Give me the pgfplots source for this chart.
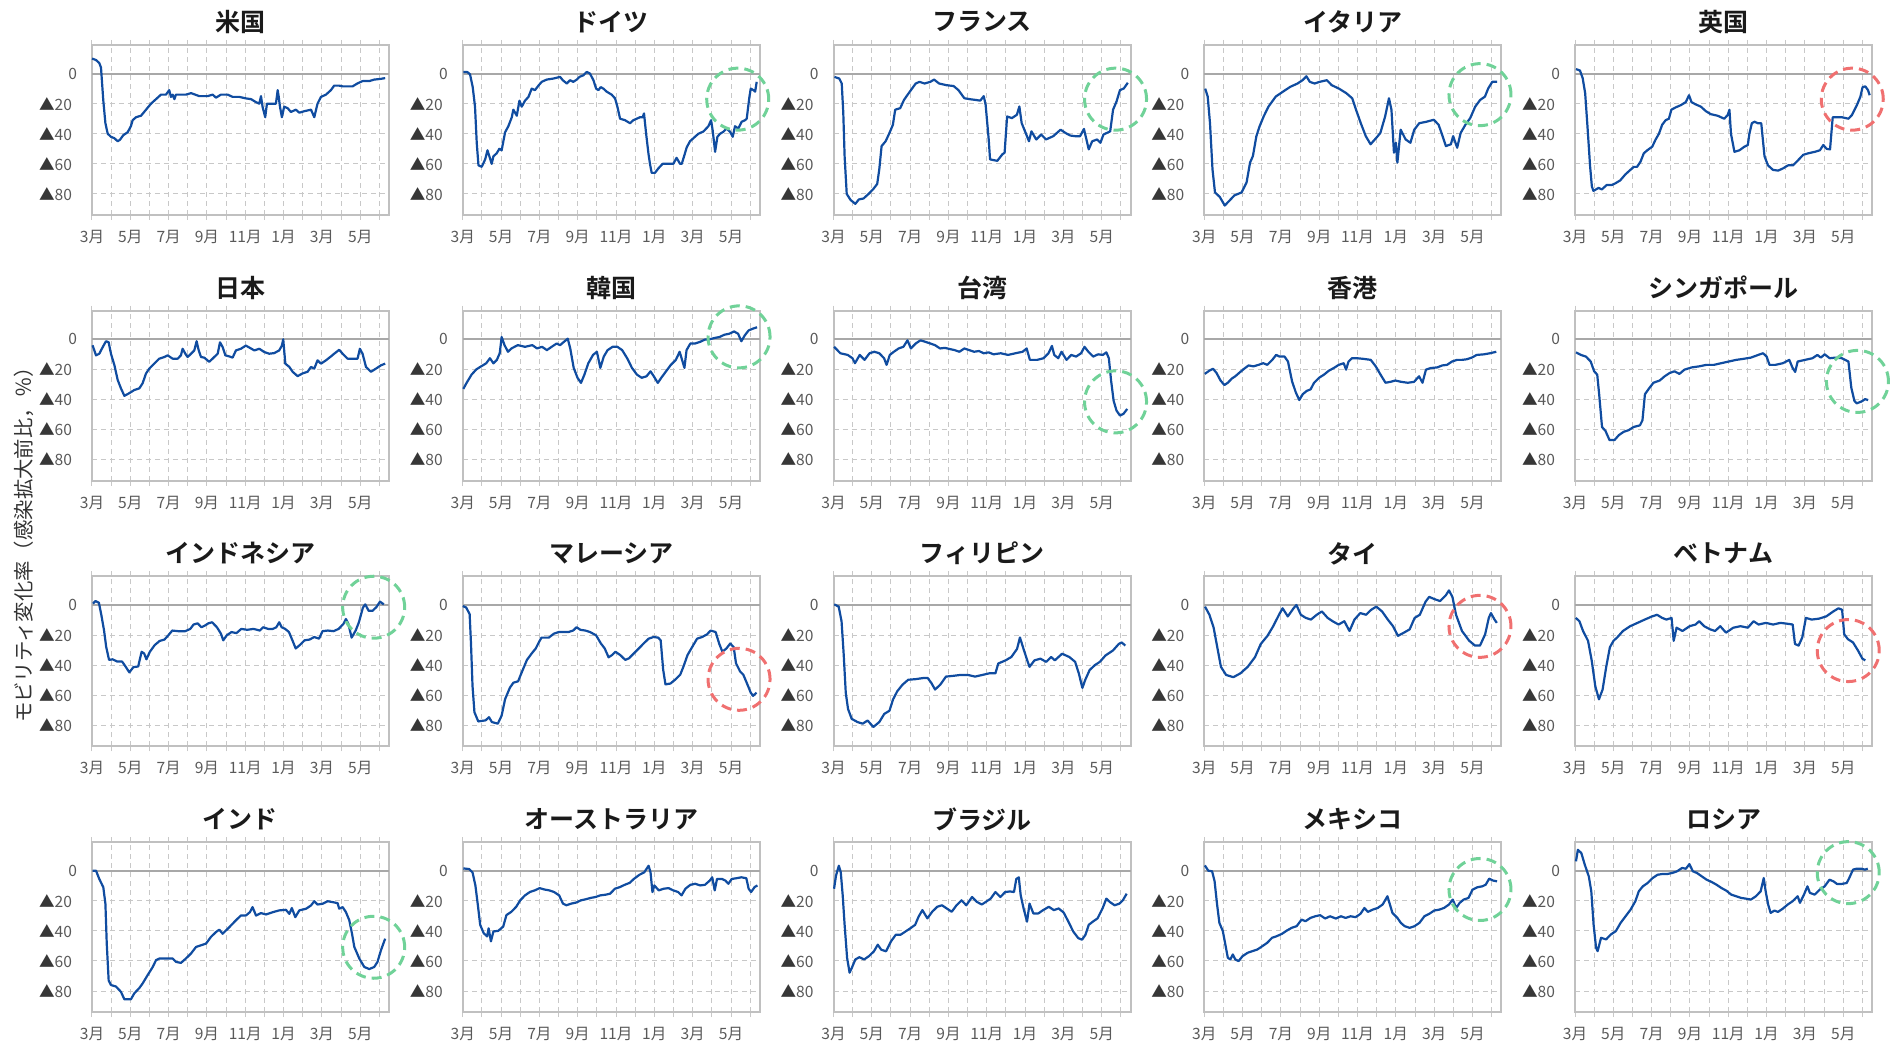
\documentclass[border=0pt]{standalone}
\usepackage{fontspec}
\setmainfont{Noto Sans CJK JP}[BoldFont={Noto Sans CJK JP Bold}]
\usepackage{pgfplots}
\pgfplotsset{compat=1.18}

\definecolor{mblue}{RGB}{16,76,160}
\definecolor{gridgray}{RGB}{200,200,200}
\definecolor{framegray}{RGB}{192,192,192}
\definecolor{zerogray}{RGB}{168,168,168}
\definecolor{labelgray}{RGB}{89,89,89}
\definecolor{tricol}{RGB}{55,55,55}
\definecolor{titlecol}{RGB}{26,26,26}
\definecolor{captioncol}{RGB}{50,50,50}
\definecolor{circG}{RGB}{112,210,152}
\definecolor{circR}{RGB}{240,112,112}

\newcommand\tri{\textcolor{tricol}{▲}}

\tikzset{
  ringG/.style={draw=circG, line width=1.5pt, dash pattern=on 5pt off 3pt},
  ringR/.style={draw=circR, line width=1.5pt, dash pattern=on 5pt off 3pt},
}

\pgfplotsset{
  panel/.style={
    scale only axis, width=148.5pt, height=85pt, anchor=north west,
    xmin=0, xmax=15.5, ymin=-94, ymax=19,
    axis line style={draw=framegray, line width=1pt},
    xtick={0,...,15},
    xticklabels={3月,{},5月,{},7月,{},9月,{},11月,{},1月,{},3月,{},5月,{}},
    ytick={-80,-60,-40,-20},
    yticklabels={\tri 80,\tri 60,\tri 40,\tri 20},
    extra y ticks={0}, extra y tick labels={0},
    extra y tick style={grid=major, major tick length=0pt,
      major grid style={solid, draw=zerogray, line width=1pt}},
    grid=major,
    major grid style={draw=gridgray, line width=0.5pt, dash pattern=on 2.5pt off 2pt},
    tick align=outside, major tick length=2.5pt,
    xtick style={draw=gridgray, line width=0.5pt},
    ytick style={draw=none},
    tick label style={font=\fontsize{7.8}{9}\selectfont, color=labelgray},
    yticklabel style={xshift=-4pt},
    xticklabel style={yshift=-1.5pt},
    title style={font=\fontsize{12.5}{14}\selectfont\bfseries, color=titlecol,
      at={(0.5,1)}, anchor=center, yshift=5.5pt},
    clip=false,
  },
  series/.style={draw=mblue, line width=1.1pt, no markers, line join=round},
}

\begin{document}
\begin{tikzpicture}
\path[use as bounding box] (0,0) rectangle (946pt,522.5pt);

% ---------- row 1 ----------
\begin{axis}[panel, at={(46pt,500pt)}, title={米国}]
\addplot[series] coordinates {(0,10)(0.21,9)(0.38,7)(0.47,4)(0.59,-18)(0.70,-33)(0.82,-40)(0.99,-42)(1.17,-43)(1.34,-45)(1.46,-44)(1.63,-41)(1.86,-39)(2.03,-35)(2.12,-31)(2.30,-29)(2.56,-28)(2.82,-24)(3.08,-20)(3.34,-17)(3.60,-14)(3.86,-14)(4.03,-11)(4.12,-15.5)(4.21,-14)(4.30,-17)(4.38,-14)(4.90,-14)(5.17,-13)(5.60,-15)(6.03,-15)(6.30,-14)(6.47,-16)(6.73,-14)(7.08,-14)(7.34,-15.5)(7.69,-15.5)(8.03,-16.5)(8.30,-17)(8.56,-19)(8.73,-20)(8.82,-15)(8.90,-22)(9.04,-29)(9.13,-20)(9.34,-20)(9.60,-20)(9.69,-11)(9.74,-15)(9.81,-22)(9.91,-29)(10.03,-22)(10.21,-23)(10.38,-25.5)(10.64,-24)(10.82,-26)(11.08,-25)(11.43,-24)(11.60,-29)(11.77,-20)(11.95,-15.5)(12.21,-14)(12.47,-11)(12.64,-8)(12.90,-8)(13.08,-8.5)(13.34,-8.5)(13.60,-8.5)(13.86,-6.5)(14.12,-5)(14.47,-5)(14.73,-4)(15.08,-3.5)(15.30,-3)};
\end{axis}

\begin{axis}[panel, at={(231.375pt,500pt)}, title={ドイツ}]
\addplot[series] coordinates {(0.03,1)(0.24,1)(0.38,-0.5)(0.52,-9)(0.64,-22)(0.73,-46)(0.82,-61)(0.99,-62)(1.17,-57)(1.29,-51)(1.39,-55)(1.51,-60)(1.60,-55)(1.77,-53)(1.91,-50)(2.03,-51)(2.21,-39)(2.38,-35)(2.56,-29)(2.64,-24)(2.82,-28)(2.96,-18)(3.08,-22)(3.25,-18)(3.43,-15.5)(3.60,-10)(3.77,-11)(3.95,-8)(4.12,-5.5)(4.38,-4)(4.73,-3.3)(5.08,-2.2)(5.22,-4.4)(5.43,-6.6)(5.60,-4.4)(5.77,-5.5)(5.95,-4)(6.09,-2.2)(6.30,-1.1)(6.47,1.1)(6.64,0)(6.82,-4.4)(6.96,-10)(7.08,-11)(7.20,-9)(7.34,-10)(7.51,-12)(7.77,-14)(7.95,-16.5)(8.07,-22)(8.21,-30)(8.47,-31)(8.73,-33)(8.90,-31)(9.08,-30)(9.25,-29)(9.39,-29)(9.46,-26.5)(9.57,-40)(9.69,-53)(9.77,-60)(9.86,-66)(10.03,-66)(10.21,-63)(10.43,-60)(10.64,-60)(10.99,-60)(11.16,-56)(11.34,-60)(11.43,-60)(11.55,-55)(11.69,-49)(11.86,-45)(12.12,-42)(12.30,-40)(12.56,-38.5)(12.82,-35)(12.96,-31)(13.04,-37.5)(13.17,-52)(13.29,-42)(13.43,-40)(13.60,-38.7)(13.77,-36.5)(13.95,-38.7)(14.09,-42)(14.21,-35)(14.38,-36.5)(14.56,-32)(14.73,-31)(14.82,-30)(14.96,-15.5)(15.03,-10)(15.17,-11)(15.26,-12)(15.34,-5.5)};
\draw[ringG] (axis cs:14.35,-17) circle[radius=15.5pt];
\end{axis}

\begin{axis}[panel, at={(416.75pt,500pt)}, title={フランス}]
\addplot[series] coordinates {(0.05,-2.2)(0.30,-3.3)(0.43,-6.6)(0.51,-26)(0.58,-55)(0.69,-80)(0.89,-84)(1.14,-86.6)(1.32,-83.7)(1.57,-83)(1.83,-80)(2.08,-76.7)(2.28,-73.4)(2.39,-63.6)(2.51,-48.2)(2.72,-45)(2.92,-39.5)(3.10,-34)(3.22,-24)(3.48,-23)(3.68,-17.5)(3.86,-14.2)(4.04,-11)(4.29,-6.6)(4.49,-5.5)(4.75,-6.6)(5.05,-5.5)(5.25,-4)(5.51,-6.6)(5.89,-7.7)(6.27,-8.3)(6.52,-11)(6.83,-16.4)(7.16,-17.1)(7.41,-17.5)(7.66,-18)(7.84,-15)(7.94,-20.8)(8.10,-43.8)(8.17,-57)(8.30,-57.4)(8.55,-58)(8.81,-53.7)(8.93,-52.6)(9.06,-28.5)(9.31,-29.6)(9.57,-27.4)(9.70,-21.9)(9.82,-32.9)(10.03,-39.5)(10.20,-45)(10.33,-38.4)(10.58,-43.8)(10.84,-40.5)(11.09,-43.8)(11.47,-41.6)(11.85,-37.3)(12.11,-39.5)(12.36,-41.2)(12.61,-41.6)(12.87,-41.6)(13.07,-36.8)(13.20,-43.8)(13.32,-50.4)(13.50,-45)(13.76,-43.8)(13.93,-46)(14.09,-40.5)(14.26,-39.5)(14.44,-38.4)(14.59,-24)(14.77,-18.6)(14.95,-11)(15.15,-9.9)(15.36,-6.1)};
\draw[ringG] (axis cs:14.72,-17) circle[radius=15.5pt];
\end{axis}

\begin{axis}[panel, at={(602.125pt,500pt)}, title={イタリア}]
\addplot[series] coordinates {(0.05,-10)(0.18,-15.3)(0.30,-33)(0.43,-63.6)(0.56,-79)(0.81,-82)(1.07,-87.7)(1.32,-84.4)(1.57,-81)(1.95,-79)(2.21,-72.3)(2.39,-59.2)(2.54,-54.8)(2.72,-41.6)(2.89,-35)(3.10,-28.5)(3.35,-22)(3.73,-15.3)(4.11,-12)(4.49,-8.8)(4.87,-6.6)(5.13,-4.4)(5.33,-1.8)(5.51,-5.5)(5.76,-6.6)(6.02,-5.5)(6.40,-4.4)(6.65,-7.7)(7.03,-10)(7.41,-13)(7.72,-16.4)(7.92,-24)(8.17,-33)(8.43,-41.6)(8.68,-47)(8.98,-42.7)(9.19,-39.5)(9.44,-28.5)(9.64,-16.4)(9.77,-24)(9.90,-52.6)(10.00,-46)(10.08,-59.2)(10.25,-37.3)(10.51,-43.8)(10.76,-46)(10.96,-37.3)(11.22,-33)(11.60,-32)(11.98,-30.7)(12.23,-34)(12.44,-41.6)(12.61,-48.2)(12.87,-47)(12.99,-41.6)(13.20,-49.3)(13.38,-39.5)(13.63,-34)(13.88,-29.6)(14.14,-22)(14.40,-17.5)(14.65,-15.3)(14.82,-9.9)(15.03,-5.5)(15.28,-5.5)};
\draw[ringG] (axis cs:14.39,-14) circle[radius=15.5pt];
\end{axis}

\begin{axis}[panel, at={(787.5pt,500pt)}, title={英国}]
\addplot[series] coordinates {(0.05,3)(0.26,2)(0.40,-3)(0.53,-13)(0.65,-35)(0.79,-62)(0.88,-75)(0.96,-78)(1.23,-76)(1.40,-77)(1.66,-74)(1.93,-74)(2.10,-73)(2.36,-71)(2.63,-67)(2.89,-64)(3.07,-62)(3.24,-62)(3.42,-58.5)(3.59,-53)(3.77,-51)(4.03,-48.6)(4.20,-44)(4.38,-40)(4.55,-34)(4.73,-31)(4.90,-30)(5.03,-24)(5.25,-22.5)(5.52,-21)(5.78,-19)(5.95,-14.4)(6.08,-19)(6.30,-20.5)(6.57,-22)(6.83,-25)(7.09,-27)(7.44,-28)(7.79,-30)(7.97,-27.5)(8.06,-24)(8.14,-40)(8.32,-52)(8.58,-51)(8.84,-48.6)(9.02,-47.5)(9.10,-40)(9.23,-33)(9.37,-32)(9.54,-33)(9.72,-33)(9.89,-55)(10.07,-61)(10.33,-64)(10.60,-64.5)(10.86,-63)(11.12,-61)(11.38,-61)(11.65,-57.5)(11.91,-54)(12.17,-53)(12.52,-52)(12.78,-51)(12.96,-47.5)(13.13,-50)(13.31,-50.4)(13.45,-29)(13.66,-29)(13.92,-29)(14.27,-30)(14.45,-27.6)(14.71,-21)(14.89,-15.5)(15.01,-9)(15.15,-8.5)(15.29,-11)(15.38,-14.4)};
\draw[ringR] (axis cs:14.47,-17) circle[radius=15.5pt];
\end{axis}

% ---------- row 2 ----------
\begin{axis}[panel, at={(46pt,367.15pt)}, title={日本}]
\addplot[series] coordinates {(0.03,-4)(0.21,-10.7)(0.38,-9.6)(0.56,-5.2)(0.73,-1.3)(0.87,-2)(0.99,-9.6)(1.17,-17.3)(1.34,-27)(1.51,-32.6)(1.69,-37.6)(1.95,-35.8)(2.21,-33.7)(2.47,-32.6)(2.64,-29.3)(2.82,-22.7)(2.99,-19.5)(3.25,-16.2)(3.51,-12.9)(3.77,-11.8)(3.95,-10.7)(4.21,-12.9)(4.47,-12.9)(4.64,-10.7)(4.73,-6.3)(4.87,-9.6)(4.99,-11.8)(5.17,-9.6)(5.34,-7.4)(5.46,-1.3)(5.57,-7.4)(5.69,-11.8)(5.86,-12.2)(6.12,-15)(6.38,-11.8)(6.56,-9.6)(6.68,-2)(6.82,-5.2)(6.96,-10.7)(7.17,-11.4)(7.34,-12.2)(7.51,-7.4)(7.77,-6.3)(8.03,-4.2)(8.24,-5.7)(8.47,-7.4)(8.73,-6.3)(8.99,-8.5)(9.25,-9.6)(9.51,-9.2)(9.77,-7.4)(9.91,-4.2)(9.98,0)(10.09,-16.2)(10.30,-18.4)(10.47,-21.6)(10.73,-24.5)(10.99,-22.7)(11.25,-21.6)(11.43,-18.4)(11.60,-19.5)(11.77,-14)(11.95,-16.2)(12.21,-14)(12.47,-11.4)(12.64,-9.6)(12.90,-7)(13.08,-9.6)(13.34,-12.9)(13.60,-12.9)(13.86,-12.9)(13.98,-6.3)(14.12,-9.6)(14.30,-18.4)(14.56,-21.6)(14.82,-19.5)(15.08,-17.3)(15.30,-16.2)};
\end{axis}

\begin{axis}[panel, at={(231.375pt,367.15pt)}, title={韓国}]
\addplot[series] coordinates {(0.03,-33)(0.20,-29)(0.46,-23.5)(0.71,-20)(0.96,-18)(1.22,-16)(1.42,-12.6)(1.60,-16)(1.78,-13.7)(1.93,-9.3)(2.03,1.5)(2.18,-3.9)(2.36,-8.3)(2.54,-6.1)(2.87,-3.9)(3.25,-5)(3.63,-3.9)(3.88,-6.1)(4.14,-5)(4.39,-7.2)(4.64,-5)(4.90,-2.8)(5.08,-3.9)(5.28,-1.7)(5.48,0.4)(5.61,-6.1)(5.79,-19)(5.99,-25.6)(6.17,-29)(6.35,-23.5)(6.55,-16)(6.80,-10.4)(7.00,-8.3)(7.18,-19)(7.36,-11.5)(7.56,-7.2)(7.82,-5)(8.07,-5)(8.32,-7.2)(8.58,-12.6)(8.83,-19)(9.09,-23.5)(9.34,-25.6)(9.59,-24.6)(9.80,-21.3)(9.97,-24.6)(10.18,-29)(10.36,-25.6)(10.61,-21.3)(10.86,-17)(11.12,-13.7)(11.32,-8.3)(11.42,-12.6)(11.57,-19)(11.68,-7.2)(11.88,-2.8)(12.13,-2.8)(12.39,-1.7)(12.64,-0.2)(12.89,0)(13.15,0.9)(13.40,1.5)(13.65,3)(13.91,3.7)(14.16,5.2)(14.37,3.7)(14.54,-1.3)(14.72,2.6)(14.92,5.9)(15.13,7)(15.36,8)};
\draw[ringG] (axis cs:14.42,1.6) circle[radius=15.5pt];
\end{axis}

\begin{axis}[panel, at={(416.75pt,367.15pt)}, title={台湾}]
\addplot[series] coordinates {(0.03,-5)(0.36,-9.3)(0.74,-10.4)(0.99,-12.6)(1.12,-15.9)(1.37,-10.4)(1.62,-13.7)(1.88,-9.3)(2.13,-8.3)(2.39,-9.3)(2.64,-12.6)(2.77,-17)(2.94,-10.4)(3.15,-8.3)(3.40,-6.1)(3.65,-5)(3.86,-0.7)(4.04,-6.1)(4.29,-2.8)(4.54,-0.7)(4.80,-1.7)(5.05,-2.8)(5.30,-3.9)(5.56,-6.1)(5.81,-5.7)(6.07,-6.5)(6.32,-7.2)(6.57,-8.3)(6.83,-6.1)(7.08,-7.2)(7.34,-8.3)(7.59,-7.8)(7.84,-9.3)(8.10,-8.7)(8.35,-10)(8.73,-9.3)(9.11,-10.4)(9.49,-9.3)(9.87,-8.3)(10.08,-6.1)(10.25,-13.7)(10.63,-13.7)(10.96,-12.6)(11.22,-9.3)(11.40,-4.4)(11.52,-10.4)(11.73,-12.6)(11.90,-8.3)(12.16,-13.7)(12.41,-10.4)(12.66,-11.5)(12.92,-9.3)(13.10,-5)(13.30,-8.3)(13.55,-11.5)(13.81,-10)(14.06,-10.4)(14.24,-8.7)(14.37,-12.6)(14.49,-27.8)(14.62,-40.9)(14.77,-47.4)(14.95,-50.7)(15.13,-49.6)(15.33,-46.3)};
\draw[ringG] (axis cs:14.72,-41.6) circle[radius=15.5pt];
\end{axis}

\begin{axis}[panel, at={(602.125pt,367.15pt)}, title={香港}]
\addplot[series] coordinates {(0.03,-23)(0.26,-20.9)(0.46,-19.6)(0.64,-22.4)(0.85,-27.4)(1.05,-30.4)(1.23,-28.9)(1.44,-26.1)(1.62,-24.6)(1.88,-21.7)(2.13,-19.1)(2.31,-17.4)(2.57,-18)(2.83,-17)(3.08,-15.9)(3.29,-17)(3.55,-13.7)(3.75,-10.4)(3.93,-11.5)(4.19,-11.5)(4.37,-14.8)(4.58,-27.8)(4.78,-35.4)(4.96,-40.4)(5.14,-36.5)(5.35,-34.3)(5.55,-33.3)(5.73,-28.9)(5.99,-25.6)(6.25,-23.5)(6.50,-20.9)(6.76,-19.1)(7.02,-17)(7.28,-15.9)(7.40,-20.2)(7.53,-14.8)(7.71,-12.6)(7.97,-12.6)(8.30,-13)(8.69,-13.7)(8.95,-18)(9.20,-23.5)(9.46,-28.9)(9.72,-28.3)(9.97,-27.4)(10.28,-28.3)(10.62,-28.9)(10.95,-28.3)(11.21,-24.6)(11.39,-28.9)(11.57,-20.2)(11.83,-19.1)(12.16,-18.7)(12.42,-17.4)(12.67,-17)(12.93,-14.8)(13.19,-13.7)(13.44,-13.7)(13.70,-13.3)(13.96,-12.2)(14.22,-10.4)(14.60,-10)(14.91,-9.3)(15.24,-8.3)};
\end{axis}

\begin{axis}[panel, at={(787.5pt,367.15pt)}, title={シンガポール}]
\addplot[series] coordinates {(0.05,-8.7)(0.31,-10.4)(0.57,-11.5)(0.82,-14.8)(1.00,-21.3)(1.16,-23.5)(1.26,-36.5)(1.41,-58.3)(1.59,-60.9)(1.80,-67)(2.06,-67)(2.29,-63.7)(2.54,-61.5)(2.80,-60.4)(3.06,-58.3)(3.39,-57.2)(3.52,-53.9)(3.65,-36.5)(3.83,-33.3)(4.09,-28.9)(4.42,-27.4)(4.68,-24.6)(4.94,-22.4)(5.19,-21.3)(5.45,-23)(5.71,-20.2)(6.09,-18.7)(6.48,-18)(6.86,-17)(7.25,-17)(7.63,-15.9)(8.02,-14.8)(8.41,-13.7)(8.79,-13)(9.18,-12.2)(9.56,-10.4)(9.82,-9.3)(10.00,-11.5)(10.15,-17)(10.46,-17)(10.85,-15.9)(11.18,-13.7)(11.36,-19.1)(11.49,-21.7)(11.62,-14.8)(12.00,-13.7)(12.39,-12.6)(12.65,-10.4)(12.83,-12.2)(13.03,-10)(13.29,-12.6)(13.60,-12.2)(13.93,-12.6)(14.27,-14.8)(14.42,-32.2)(14.58,-40.9)(14.70,-42.6)(14.96,-41.3)(15.14,-39.8)(15.30,-40.4)};
\draw[ringG] (axis cs:14.74,-28) circle[radius=15.5pt];
\end{axis}

% ---------- row 3 ----------
\begin{axis}[panel, at={(46pt,234.3pt)}, title={インドネシア}]
\addplot[series] coordinates {(0.05,0.9)(0.18,2.6)(0.36,1.5)(0.48,-6.1)(0.63,-17)(0.74,-27.8)(0.89,-36.5)(1.07,-36.1)(1.32,-37.6)(1.57,-37.6)(1.75,-40.9)(1.95,-44.8)(2.16,-41.3)(2.41,-40.9)(2.59,-31.1)(2.72,-32.2)(2.84,-36.1)(3.02,-31.1)(3.27,-26.7)(3.53,-23.9)(3.78,-23)(3.98,-20.2)(4.19,-17)(4.49,-17.4)(4.87,-17.4)(5.13,-15.9)(5.30,-13)(5.51,-12.2)(5.71,-14.8)(5.89,-13.7)(6.07,-12.2)(6.27,-11.5)(6.52,-14.8)(6.73,-19.1)(6.85,-23.5)(7.03,-20.2)(7.28,-18)(7.54,-18.7)(7.79,-15.9)(8.10,-16.5)(8.43,-15.9)(8.76,-17)(8.93,-14.8)(9.19,-15.9)(9.44,-15.9)(9.62,-14.8)(9.77,-11.5)(9.90,-14.8)(10.08,-15.9)(10.28,-18)(10.46,-23.5)(10.63,-28.9)(10.84,-26.7)(11.09,-23.5)(11.35,-23)(11.60,-21.3)(11.85,-22.4)(12.03,-17.4)(12.31,-17)(12.61,-17.4)(12.87,-15.9)(13.12,-12.6)(13.25,-9.3)(13.38,-12.6)(13.55,-21.7)(13.76,-17)(13.93,-11.5)(14.14,-1.7)(14.26,0.4)(14.44,-3.9)(14.64,-3.9)(14.85,-1.3)(15.03,2.2)(15.23,0.4)};
\draw[ringG] (axis cs:14.7,-1.5) circle[radius=15.5pt];
\end{axis}

\begin{axis}[panel, at={(231.375pt,234.3pt)}, title={マレーシア}]
\addplot[series] coordinates {(0,-0.7)(0.18,-1.7)(0.36,-6.1)(0.43,-25.6)(0.51,-53.9)(0.61,-71.3)(0.81,-77.4)(1.19,-76.7)(1.37,-74.6)(1.52,-77.8)(1.83,-78.9)(2.03,-73.5)(2.21,-62.6)(2.46,-55)(2.64,-51.7)(2.89,-50.7)(3.10,-44.1)(3.35,-36.5)(3.60,-32.2)(3.81,-28.9)(3.98,-24.6)(4.11,-21.7)(4.49,-21.7)(4.75,-19.1)(5.00,-18)(5.25,-18)(5.51,-18)(5.76,-17)(5.94,-14.8)(6.14,-16.5)(6.40,-17)(6.65,-18)(6.96,-20.2)(7.21,-25.6)(7.41,-28.9)(7.61,-34.8)(7.79,-33.3)(7.97,-31.1)(8.22,-33.3)(8.48,-36.5)(8.68,-35.4)(8.93,-32.2)(9.19,-28.9)(9.44,-25.6)(9.70,-22.4)(9.95,-21.3)(10.20,-21.7)(10.33,-23.5)(10.46,-43)(10.58,-52.8)(10.84,-52.2)(11.09,-49.6)(11.35,-46.3)(11.52,-40.9)(11.73,-33.3)(11.98,-27.8)(12.23,-22.4)(12.49,-21.3)(12.74,-19.6)(12.94,-17)(13.20,-18)(13.38,-25.6)(13.55,-31.1)(13.76,-28.9)(13.96,-25.6)(14.14,-28)(14.26,-38.7)(14.47,-44.1)(14.64,-46.3)(14.82,-51.7)(15.03,-58.3)(15.15,-60.4)(15.33,-58.3)};
\draw[ringR] (axis cs:14.42,-49.4) circle[radius=15.5pt];
\end{axis}

\begin{axis}[panel, at={(416.75pt,234.3pt)}, title={フィリピン}]
\addplot[series] coordinates {(0.04,0.4)(0.27,-1.1)(0.42,-10.8)(0.53,-32.4)(0.64,-58.4)(0.76,-69.2)(0.95,-75.7)(1.25,-77.8)(1.52,-78.9)(1.78,-76.8)(2.08,-81.1)(2.39,-77.8)(2.65,-72.4)(2.92,-70.3)(3.11,-62.7)(3.33,-57.3)(3.60,-53)(3.90,-49.7)(4.28,-49.3)(4.66,-48.6)(4.92,-48.6)(5.11,-51.9)(5.30,-56.2)(5.57,-53)(5.87,-47.6)(6.25,-47.1)(6.63,-46.5)(7.01,-46.5)(7.39,-47.6)(7.77,-46.5)(8.14,-45.4)(8.45,-45.4)(8.60,-38.9)(8.98,-36.8)(9.28,-34.6)(9.58,-29.2)(9.73,-21.6)(9.89,-28.1)(10.11,-36.8)(10.23,-41.1)(10.49,-36.8)(10.80,-35.7)(11.10,-37.8)(11.36,-34.6)(11.55,-36.8)(11.93,-32.4)(12.31,-34.6)(12.61,-37.8)(12.80,-45.4)(12.99,-55.1)(13.14,-49.7)(13.37,-43.2)(13.64,-40)(13.90,-37.8)(14.20,-33.5)(14.58,-30.3)(14.89,-25.9)(15.04,-24.9)(15.23,-27)};
\end{axis}

\begin{axis}[panel, at={(602.125pt,234.3pt)}, title={タイ}]
\addplot[series] coordinates {(0.04,-1.1)(0.27,-6.5)(0.49,-15.1)(0.68,-28.1)(0.87,-41.1)(1.14,-46.5)(1.52,-48)(1.89,-45.4)(2.27,-41.1)(2.65,-34.6)(2.95,-25.9)(3.30,-20.5)(3.60,-14.1)(3.90,-6.5)(4.09,-2.2)(4.36,-7.6)(4.66,-2.2)(4.81,0)(5.04,-6.5)(5.30,-8.6)(5.57,-9.7)(5.87,-6.5)(6.14,-4.3)(6.44,-8.6)(6.70,-10.8)(7.01,-13)(7.31,-10.8)(7.58,-17.3)(7.84,-9.7)(8.14,-5.4)(8.45,-6.5)(8.71,-3.2)(8.98,-1.1)(9.28,-4.3)(9.58,-9.7)(9.85,-14.1)(10.11,-20.5)(10.42,-18.4)(10.72,-16.2)(10.98,-8.6)(11.25,-6.5)(11.55,2.2)(11.74,5.4)(12.01,3.9)(12.31,2.6)(12.61,6.5)(12.77,9.7)(12.95,5.4)(13.14,-6.5)(13.45,-17.3)(13.83,-23.8)(14.13,-27)(14.39,-27)(14.66,-19.5)(14.85,-8.6)(14.96,-5.4)(15.15,-9.7)(15.27,-11.9)};
\draw[ringR] (axis cs:14.39,-14.2) circle[radius=15.5pt];
\end{axis}

\begin{axis}[panel, at={(787.5pt,234.3pt)}, title={ベトナム}]
\addplot[series] coordinates {(0.04,-8.6)(0.23,-10.8)(0.42,-17.3)(0.68,-23.8)(0.87,-36.8)(1.06,-54.1)(1.25,-62.7)(1.44,-56.2)(1.63,-41.1)(1.82,-28.1)(2.01,-23.8)(2.20,-21.6)(2.50,-17.3)(2.88,-14.1)(3.26,-11.9)(3.64,-9.7)(4.02,-7.6)(4.28,-6.5)(4.55,-8.6)(4.77,-9.7)(5.04,-8.6)(5.15,-23.8)(5.30,-15.1)(5.61,-17.3)(5.98,-14.1)(6.29,-13)(6.48,-10.8)(6.74,-14.1)(7.05,-16.2)(7.31,-17.3)(7.58,-14.1)(7.88,-18.4)(8.26,-15.1)(8.64,-14.1)(9.02,-15.1)(9.32,-10.8)(9.58,-13)(9.96,-11.9)(10.34,-13)(10.72,-11.9)(11.10,-12.5)(11.36,-13)(11.48,-25.9)(11.67,-27)(11.86,-21.6)(12.05,-8.6)(12.35,-9.7)(12.73,-9.1)(13.11,-7.6)(13.48,-4.3)(13.75,-2.2)(13.94,-3.2)(14.05,-19.5)(14.24,-22.7)(14.51,-24.9)(14.77,-30.3)(15.00,-35.7)(15.15,-36.8)};
\draw[ringR] (axis cs:14.26,-30.3) circle[radius=15.5pt];
\end{axis}

% ---------- row 4 ----------
\begin{axis}[panel, at={(46pt,101.45pt)}, title={インド}]
\addplot[series] coordinates {(0.03,0)(0.21,0)(0.38,-5.5)(0.59,-11)(0.70,-22)(0.77,-48.5)(0.87,-73)(0.99,-76)(1.25,-77)(1.51,-80.5)(1.69,-85.5)(2.03,-85.5)(2.21,-81.5)(2.47,-78)(2.64,-75)(2.90,-69.5)(3.17,-64)(3.34,-59.5)(3.51,-58.4)(3.77,-58.4)(4.03,-58.4)(4.21,-58.4)(4.38,-60.6)(4.64,-61.3)(4.90,-58.4)(5.17,-55)(5.43,-50.7)(5.69,-49.6)(5.95,-48.5)(6.21,-44)(6.47,-40.8)(6.64,-39.2)(6.82,-41.9)(7.17,-37.5)(7.51,-33)(7.77,-29.8)(8.03,-29.8)(8.24,-27.6)(8.38,-24.2)(8.56,-29.8)(8.82,-28.2)(9.08,-29.1)(9.43,-27.6)(9.77,-26.4)(10.12,-26)(10.30,-28.7)(10.43,-24.8)(10.61,-30.9)(10.82,-26.4)(11.17,-25.3)(11.43,-23.1)(11.60,-20.3)(11.77,-22.5)(12.03,-22)(12.30,-20.3)(12.56,-20.9)(12.82,-21.6)(12.90,-25.3)(13.08,-24.2)(13.25,-27.5)(13.43,-33)(13.57,-41.9)(13.69,-50.7)(13.95,-58.4)(14.21,-64)(14.47,-65.4)(14.73,-64)(14.90,-60.6)(15.08,-52.9)(15.30,-45.2)};
\draw[ringG] (axis cs:14.7,-50.9) circle[radius=15.5pt];
\end{axis}

\begin{axis}[panel, at={(231.375pt,101.45pt)}, title={オーストラリア}]
\addplot[series] coordinates {(0.03,1.5)(0.33,1.1)(0.51,-1.1)(0.66,-9.8)(0.79,-23)(0.91,-36)(1.09,-41.5)(1.27,-43.7)(1.35,-38.3)(1.47,-47)(1.60,-40.4)(1.85,-40)(2.11,-37.2)(2.28,-29.5)(2.54,-27.3)(2.79,-24)(3.00,-19.7)(3.25,-16.4)(3.50,-14.2)(3.76,-13.1)(4.01,-11.6)(4.26,-12.5)(4.52,-13.1)(4.77,-14.2)(5.03,-16.4)(5.23,-21.9)(5.41,-23)(5.66,-21.9)(5.91,-21.2)(6.17,-19.7)(6.42,-19)(6.68,-18.1)(6.93,-17.5)(7.18,-16.4)(7.44,-16)(7.69,-15.3)(7.94,-12)(8.20,-10.9)(8.45,-9.4)(8.71,-8.1)(8.93,-5.5)(9.21,-2.8)(9.47,-1.1)(9.70,3.3)(9.80,-1.1)(9.90,-14.2)(10.00,-9.8)(10.23,-13.1)(10.48,-12)(10.74,-11.6)(10.99,-13.1)(11.24,-14.2)(11.42,-16.4)(11.62,-12)(11.88,-9.4)(12.13,-8.7)(12.39,-9.8)(12.64,-9.4)(12.89,-6.6)(13.02,-4.4)(13.15,-13.1)(13.27,-5.5)(13.53,-5.5)(13.71,-6.6)(13.86,-8.7)(14.04,-5.5)(14.29,-5)(14.54,-4.4)(14.80,-5)(14.92,-12)(15.05,-14.2)(15.23,-10.9)(15.38,-9.8)};
\end{axis}

\begin{axis}[panel, at={(416.75pt,101.45pt)}, title={ブラジル}]
\addplot[series] coordinates {(0.03,-12)(0.13,-3.3)(0.28,3.3)(0.38,-1.1)(0.48,-16.4)(0.58,-36)(0.71,-58)(0.84,-67.8)(0.96,-64.5)(1.14,-59)(1.35,-57.5)(1.60,-59)(1.85,-56.8)(2.11,-53.6)(2.31,-49.2)(2.49,-52.5)(2.74,-53.6)(3.00,-47)(3.25,-42.6)(3.50,-42.6)(3.76,-40.4)(4.01,-38.3)(4.26,-36)(4.44,-30.6)(4.64,-26.2)(4.90,-31.7)(5.15,-27.3)(5.41,-24)(5.66,-23)(5.91,-25.1)(6.17,-27.3)(6.42,-23)(6.68,-19.7)(6.93,-23)(7.23,-17.5)(7.49,-20.8)(7.74,-22.5)(8.00,-20.3)(8.20,-18.6)(8.45,-14.2)(8.71,-17.5)(8.96,-14.2)(9.21,-13.8)(9.42,-14.2)(9.54,-5.5)(9.67,-4.4)(9.77,-16.4)(9.92,-25.1)(10.10,-33.9)(10.23,-21.9)(10.43,-28.4)(10.69,-28.4)(10.94,-26.2)(11.24,-24)(11.50,-26.2)(11.75,-25.1)(12.01,-27.8)(12.26,-33.9)(12.51,-40.4)(12.77,-44.8)(12.97,-45.9)(13.15,-42.6)(13.32,-36)(13.53,-33.9)(13.78,-31.7)(14.04,-25.1)(14.24,-18.6)(14.42,-20.8)(14.67,-23)(14.92,-21.9)(15.10,-19.7)(15.30,-15.3)};
\end{axis}

\begin{axis}[panel, at={(602.125pt,101.45pt)}, title={メキシコ}]
\addplot[series] coordinates {(0.03,3.5)(0.21,0)(0.41,-0.4)(0.54,-7.1)(0.67,-22.5)(0.79,-34.7)(0.97,-40.2)(1.10,-49)(1.23,-57.9)(1.36,-59)(1.49,-55.7)(1.62,-59)(1.79,-60.1)(2.00,-56.8)(2.26,-54.6)(2.51,-53.5)(2.77,-52.4)(3.03,-50.2)(3.28,-48)(3.54,-44.6)(3.79,-43.5)(4.05,-42)(4.31,-39.8)(4.56,-38)(4.82,-36.9)(5.08,-32.5)(5.28,-33.6)(5.54,-31.4)(5.79,-30.3)(6.05,-29.6)(6.31,-31.8)(6.56,-30.3)(6.87,-31.8)(7.13,-30.3)(7.38,-31.4)(7.64,-30.3)(7.90,-30.9)(8.15,-28.7)(8.36,-24.8)(8.54,-27.4)(8.79,-25.9)(9.05,-24.8)(9.31,-22.5)(9.56,-17)(9.69,-22.5)(9.82,-28.1)(10.08,-31.4)(10.26,-34.7)(10.46,-36.9)(10.72,-38)(10.97,-36.9)(11.23,-34.7)(11.49,-30.3)(11.74,-28.7)(12.00,-26.5)(12.26,-25.9)(12.51,-24.8)(12.77,-22.5)(12.97,-19.2)(13.15,-24.8)(13.33,-21.4)(13.54,-19.2)(13.79,-18.1)(14.00,-12.6)(14.26,-11)(14.51,-10.4)(14.69,-9.3)(14.87,-5.3)(15.08,-6.6)(15.28,-7.1)};
\draw[ringG] (axis cs:14.39,-12.5) circle[radius=15.5pt];
\end{axis}

\begin{axis}[panel, at={(787.5pt,101.45pt)}, title={ロシア}]
\addplot[series] coordinates {(0.05,6.2)(0.15,13.9)(0.33,11.7)(0.51,4)(0.72,-3.8)(0.85,-13.7)(0.97,-35.8)(1.10,-51.3)(1.18,-53.5)(1.36,-44.6)(1.62,-45.7)(1.87,-42.4)(2.13,-40.2)(2.38,-34.7)(2.64,-30.3)(2.90,-25.9)(3.15,-20.3)(3.33,-13.7)(3.54,-10.4)(3.79,-8.2)(4.05,-4.9)(4.31,-2.7)(4.56,-2.2)(4.82,-2.2)(5.08,-1.5)(5.33,-0.4)(5.59,1.8)(5.79,1.3)(5.97,4.4)(6.15,-0.4)(6.36,-1.5)(6.62,-3.8)(6.87,-6)(7.13,-7.5)(7.38,-9.3)(7.64,-11.5)(7.90,-13.3)(8.15,-15.9)(8.41,-17)(8.67,-18.1)(8.92,-18.6)(9.18,-19.2)(9.44,-17)(9.69,-13.7)(9.85,-4.9)(9.95,-13.7)(10.08,-22.5)(10.21,-28.1)(10.41,-26.5)(10.59,-27.4)(10.85,-25.2)(11.10,-22.5)(11.36,-20.3)(11.62,-17)(11.74,-21.4)(11.95,-15.9)(12.13,-10.4)(12.26,-14.8)(12.51,-15.9)(12.77,-12.6)(13.03,-10.4)(13.28,-6)(13.49,-7.1)(13.67,-8.8)(13.92,-8.8)(14.18,-8.2)(14.31,-4.9)(14.51,0.7)(14.69,1.3)(14.95,1.3)(15.13,0.7)(15.28,1.3)};
\draw[ringG] (axis cs:14.26,-1.3) circle[radius=15.5pt];
\end{axis}

% shared y-axis caption
\node[rotate=90, font=\fontsize{10.2}{12}\selectfont, color=captioncol]
  at (12pt,252.5pt) {モビリティ変化率（感染拡大前比，％）};
\end{tikzpicture}
\end{document}
